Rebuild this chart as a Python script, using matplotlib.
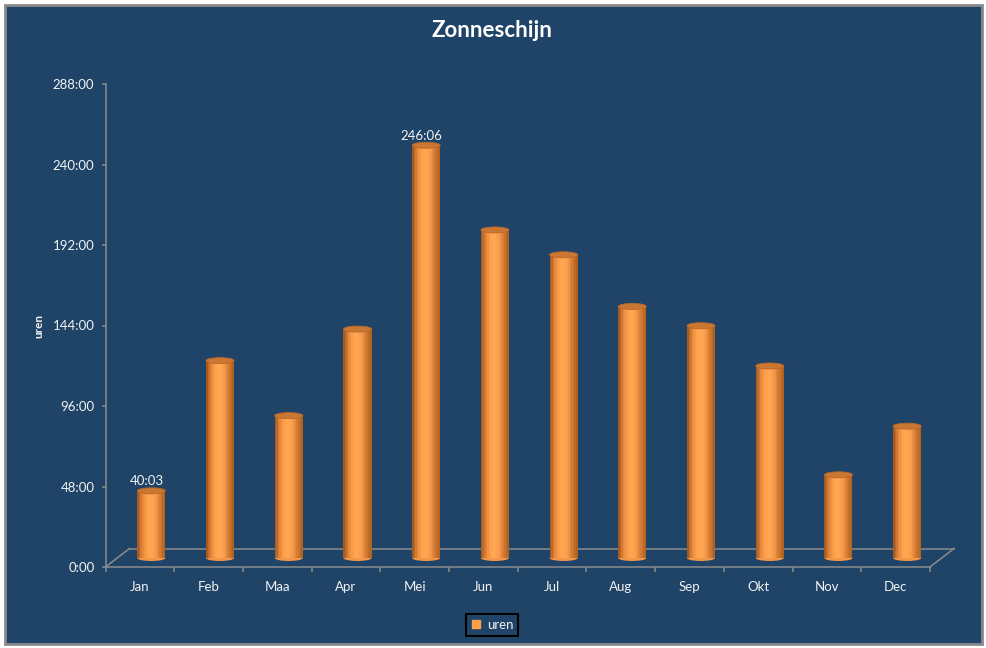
import matplotlib
matplotlib.use('Agg')
import matplotlib.pyplot as plt
import numpy as np
from matplotlib.patches import Ellipse, Rectangle
from matplotlib.lines import Line2D
from matplotlib.colors import LinearSegmentedColormap
from matplotlib.transforms import offset_copy, IdentityTransform
from matplotlib.ticker import FuncFormatter, FixedLocator

plt.rcParams['font.family'] = ['Lato', 'DejaVu Sans']

# zonneschijn per maand (uren, decimaal)
maanden = ['Jan', 'Feb', 'Maa', 'Apr', 'Mei', 'Jun', 'Jul', 'Aug', 'Sep', 'Okt', 'Nov', 'Dec']
uren = [40.05, 117.7, 84.9, 136.5, 246.1, 195.6, 180.8, 150.0, 138.5, 114.5, 49.6, 78.6]
label_idx = [0, 4]          # alleen Jan en Mei hebben een datalabel
y_ticks = [0, 48, 96, 144, 192, 240, 288]

BG = '#1F4467'
AXC = '#8C8C8C'
TXT = '#F2F2F2'


def fmt_uren(v):
    h = int(v)
    m = int(round((v - h) * 60))
    return f'{h}:{m:02d}'


W, H = 987, 648
fig = plt.figure(figsize=(W / 100, H / 100), dpi=100, facecolor='white')
fig.add_artist(Rectangle((5 / W, 4 / H), (W - 10) / W, (H - 9) / H, transform=fig.transFigure,
                         facecolor=BG, edgecolor='#8A8A8A', linewidth=2, zorder=-5))

ax = fig.add_axes([105.5 / W, 81 / H, (930 - 105.5) / W, (564 - 81) / H])
ax.set_facecolor('none')
ax.set_autoscale_on(False)
ax.set_xlim(-0.5, 11.5)
ax.set_ylim(0, 288)

# assen
ax.yaxis.set_major_locator(FixedLocator(y_ticks))
ax.yaxis.set_major_formatter(FuncFormatter(lambda v, p: fmt_uren(v)))
ax.tick_params(axis='y', colors=AXC, labelcolor=TXT, length=3, width=1.1, labelsize=9.5, pad=5)
ax.set_xticks(range(len(maanden)))
ax.set_xticklabels(maanden)
ax.set_xticks(np.arange(-0.5, len(maanden)), minor=True)
ax.tick_params(axis='x', which='major', length=0, labelcolor=TXT, labelsize=9.5, pad=10)
ax.tick_params(axis='x', which='minor', length=3.5, width=1.1, color=AXC)
for s in ['top', 'right']:
    ax.spines[s].set_visible(False)
for s in ['left', 'bottom']:
    ax.spines[s].set_color(AXC)
    ax.spines[s].set_linewidth(1.1)

# 3D vloer
off = np.array([24, 18.5])
p0 = ax.transData.transform((-0.5, 0))
p1 = ax.transData.transform((11.5, 0))
for a, b in [(p0, p0 + off), (p0 + off, p1 + off), (p1, p1 + off)]:
    ax.add_line(Line2D([a[0], b[0]], [a[1], b[1]], transform=IdentityTransform(),
                       color=AXC, linewidth=1.1, clip_on=False, zorder=1))

# cilinders
px = ax.transData.transform([(0, 0), (1, 1)])
px_x = px[1, 0] - px[0, 0]
px_y = px[1, 1] - px[0, 1]
cyl_w = 28 / px_x
ell_h = 6 / px_y
trans_cyl = offset_copy(ax.transData, fig=fig, x=11.5, y=9, units='dots')

cmap = LinearSegmentedColormap.from_list(
    'cyl', ['#A65A20', '#E4883C', '#FFA04C', '#FFA852', '#F7994A', '#D27A34', '#B0621F'])
x = np.arange(len(uren))
for i in x:
    ax.add_patch(Ellipse((i, 0), cyl_w, ell_h, transform=trans_cyl,
                         facecolor='#F2964A', edgecolor='none', zorder=2))
n_strip = 18
edges = np.linspace(-cyl_w / 2, cyl_w / 2, n_strip + 1)
for k in range(n_strip):
    ax.bar(x + (edges[k] + edges[k + 1]) / 2, uren, width=cyl_w / n_strip * 1.08,
           color=cmap(k / (n_strip - 1)), transform=trans_cyl, linewidth=0, zorder=3)
for i, v in zip(x, uren):
    ax.add_patch(Ellipse((i, v), cyl_w, ell_h, transform=trans_cyl,
                         facecolor='#C97733', edgecolor='#B8682A', linewidth=0.6, zorder=4))

# datalabels
for i in label_idx:
    ax.annotate(fmt_uren(uren[i]), (i, uren[i]), xytext=(7, 18.5), textcoords='offset pixels',
                ha='center', va='center', color=TXT, fontsize=9.5, zorder=5)

fig.text(491.7 / W, 1 - 30.7 / H, 'Zonneschijn', ha='center', va='center',
         fontsize=16, fontweight='bold', color='white')
fig.text(39 / W, 1 - 326 / H, 'uren', rotation=90, ha='center', va='center',
         fontsize=8.5, fontweight='bold', color=TXT)

handle = Line2D([], [], marker='s', linestyle='none', markersize=6,
                markerfacecolor='#FF9F4A', markeredgecolor='#FF9F4A')
leg = fig.legend([handle], ['uren'], loc='center', bbox_to_anchor=(492 / W, 1 - 625 / H),
                 frameon=True, fancybox=False, facecolor=BG, edgecolor='black', fontsize=9.5,
                 labelcolor=TXT, handlelength=0.8, handletextpad=0.4, borderpad=0.35,
                 borderaxespad=0)
leg.get_frame().set_linewidth(1.5)
leg.get_frame().set_alpha(1)

fig.savefig('out.png', dpi=100, facecolor='white')
